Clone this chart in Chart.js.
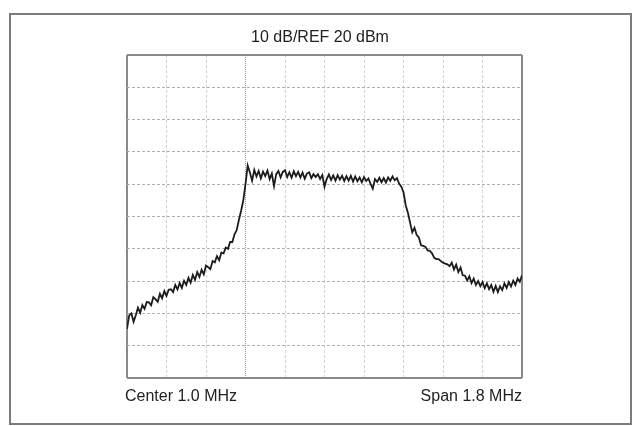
<!DOCTYPE html>
<html>
<head>
<meta charset="utf-8">
<script src="https://cdn.jsdelivr.net/npm/chart.js@4/dist/chart.umd.min.js"></script>
<style>
  html, body { margin: 0; padding: 0; background: #fff; }
  #wrap { position: relative; width: 640px; height: 426px; overflow: hidden; }
  #frame { position: absolute; left: 9px; top: 13px; width: 619px; height: 408px; border: 2px solid #7c7c7c; }
  .lbl { position: absolute; font-family: "Liberation Sans", Arial, sans-serif; font-size: 16px; color: #222; white-space: nowrap; line-height: 1; }
  #title { left: 0; width: 640px; top: 29px; text-align: center; }
  #center { left: 125px; top: 388px; }
  #span { right: 118px; top: 388px; }
  canvas { position: absolute; left: 0; top: 0; }
</style>
</head>
<body>
<div id="wrap">
  <div id="frame"></div>
  <canvas id="spec" width="640" height="426"></canvas>
  <div class="lbl" id="title">10 dB/REF 20 dBm</div>
  <div class="lbl" id="center">Center 1.0 MHz</div>
  <div class="lbl" id="span">Span 1.8 MHz</div>
</div>
<script>
// sweep: 181 points, 0.1 .. 1.9 MHz (center 1.0, span 1.8)
const startMHz = 0.1;
const stepMHz = 0.01;

// grid divisions
const freqTicks = [0.1, 0.28, 0.46, 0.64, 0.82, 1.0, 1.18, 1.36, 1.54, 1.72, 1.9];
const levelTicks = [-80, -70, -60, -50, -40, -30, -20, -10, 0, 10, 20];

// trace level, dBm
const levels = [
  -64.8, -60.6, -60.0, -62.6, -60.6, -58.2, -59.8, -57.4, -58.6, -56.5,
  -56.6, -57.5, -55.0, -55.6, -56.4, -53.9, -55.3, -53.1, -54.6, -52.7,
  -52.5, -53.4, -51.2, -52.6, -50.6, -52.1, -49.9, -51.2, -49.0, -50.5,
  -48.1, -49.6, -47.2, -48.7, -46.5, -47.9, -45.2, -45.7, -46.3, -43.8,
  -44.2, -42.3, -43.5, -41.2, -41.4, -39.6, -40.0, -37.9, -37.9, -35.5,
  -34.2, -31.0, -28.2, -25.0, -20.0, -14.2, -16.4, -18.9, -15.6, -17.6,
  -15.9, -18.2, -16.1, -17.5, -15.8, -18.4, -16.7, -20.6, -16.9, -15.9,
  -17.9, -16.2, -15.7, -17.8, -16.3, -18.0, -16.0, -17.5, -16.2, -17.9,
  -16.4, -18.3, -16.7, -16.3, -18.1, -16.9, -17.8, -16.9, -18.4, -17.2,
  -20.8, -18.4, -17.0, -18.7, -17.3, -18.9, -17.2, -18.6, -17.4, -19.0,
  -17.5, -18.9, -17.4, -19.2, -17.6, -19.1, -17.9, -19.4, -17.8, -19.0,
  -18.2, -19.9, -21.4, -18.4, -19.3, -18.0, -19.4, -18.1, -19.5, -17.9,
  -18.9, -17.6, -18.8, -18.1, -19.8, -20.8, -22.5, -26.5, -28.8, -31.9,
  -34.9, -33.5, -35.7, -36.5, -38.9, -39.1, -39.4, -40.5, -40.6, -41.4,
  -42.8, -43.2, -43.2, -43.8, -44.3, -44.6, -44.8, -45.4, -44.3, -46.4,
  -44.9, -47.2, -45.8, -48.2, -48.3, -49.8, -48.5, -50.6, -49.2, -51.2,
  -50.0, -51.6, -50.3, -52.2, -50.7, -52.5, -51.2, -53.3, -51.5, -53.4,
  -51.6, -52.8, -50.7, -52.1, -50.3, -51.7, -49.9, -51.2, -49.2, -50.2, -48.2
];

const points = levels.map((v, i) => ({ x: startMHz + i * stepMHz, y: v }));
const markerIdx = 3;

function isEdge(ctx, n) {
  return ctx.index === 0 || ctx.index === n - 1;
}

new Chart(document.getElementById('spec').getContext('2d'), {
  type: 'line',
  data: {
    datasets: [{
      data: points,
      borderColor: '#1c1c1c',
      borderWidth: 1.8,
      pointRadius: 0,
      tension: 0,
      fill: false
    }]
  },
  options: {
    responsive: false,
    animation: false,
    events: [],
    layout: { padding: { left: 127, top: 55, right: 118, bottom: 48 } },
    plugins: {
      legend: { display: false },
      tooltip: { enabled: false },
      title: { display: false }
    },
    scales: {
      x: {
        type: 'linear',
        min: freqTicks[0],
        max: freqTicks[freqTicks.length - 1],
        afterBuildTicks: scale => { scale.ticks = freqTicks.map(v => ({ value: v })); },
        ticks: { display: false },
        border: {
          display: false,
          dash: ctx => isEdge(ctx, freqTicks.length) ? [] : (ctx.index === markerIdx ? [1, 1] : [3, 2])
        },
        grid: {
          drawTicks: false,
          color: ctx => isEdge(ctx, freqTicks.length) ? '#8a8a8a' : (ctx.index === markerIdx ? '#9a9a9a' : '#d2d2d2'),
          lineWidth: ctx => isEdge(ctx, freqTicks.length) ? 2 : 1
        }
      },
      y: {
        min: levelTicks[0],
        max: levelTicks[levelTicks.length - 1],
        afterBuildTicks: scale => { scale.ticks = levelTicks.map(v => ({ value: v })); },
        ticks: { display: false },
        border: {
          display: false,
          dash: ctx => isEdge(ctx, levelTicks.length) ? [] : [3, 2]
        },
        grid: {
          drawTicks: false,
          color: ctx => isEdge(ctx, levelTicks.length) ? '#8a8a8a' : '#b0b0b0',
          lineWidth: ctx => isEdge(ctx, levelTicks.length) ? 2 : 1
        }
      }
    }
  }
});
</script>
</body>
</html>
